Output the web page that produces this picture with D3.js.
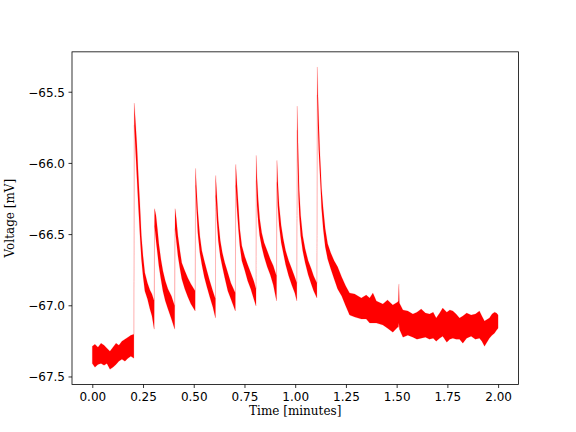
<!DOCTYPE html>
<html><head><meta charset="utf-8">
<script src="https://cdn.jsdelivr.net/npm/d3@7"></script>
<style>body{margin:0;background:#fff}</style>
</head><body><svg id="c" width="576" height="432"></svg>
<script>
// Time (minutes) of envelope samples
const timeMin = [
0.000,0.013,0.028,0.043,0.058,0.072,0.087,0.102,0.117,0.131,0.146,0.161,0.176,0.190,0.205,
0.207,0.213,0.220,0.227,0.235,0.242,0.250,0.259,0.272,0.284,0.294,0.305,
0.307,0.314,0.321,0.328,0.338,0.348,0.360,0.373,0.390,0.406,
0.408,0.414,0.422,0.432,0.441,0.456,0.471,0.486,0.507,
0.509,0.513,0.520,0.530,0.540,0.552,0.565,0.579,0.594,0.607,
0.608,0.614,0.621,0.631,0.641,0.653,0.668,0.683,0.705,
0.707,0.712,0.720,0.727,0.737,0.752,0.766,0.781,0.796,0.807,
0.808,0.812,0.818,0.825,0.835,0.847,0.862,0.877,0.892,0.908,
0.910,0.914,0.921,0.931,0.941,0.953,0.968,0.983,0.998,1.008,
1.010,1.012,1.016,1.020,1.027,1.037,1.049,1.064,1.079,1.091,1.107,
1.109,1.112,1.116,1.121,1.126,1.130,1.138,1.148,1.160,1.175,1.192,1.209,1.229,1.249,
1.268,1.293,1.326,1.350,1.367,1.383,1.400,1.432,1.455,1.481,
1.505,1.5085,1.511,1.5135,1.531,1.555,1.580,1.600,1.621,1.642,
1.662,1.680,1.695,1.712,1.727,1.747,1.762,1.777,1.793,1.810,
1.826,1.845,1.867,1.888,1.908,1.920,1.933,1.957,1.970,1.982,1.992,2.000];

// Upper edge of the noisy voltage trace (mV)
const voltHigh = [
-67.288,-67.274,-67.295,-67.266,-67.281,-67.302,-67.323,-67.295,-67.266,-67.281,-67.252,-67.238,-67.224,-67.210,-67.203,
-65.580,-65.714,-65.876,-66.088,-66.300,-66.511,-66.652,-66.772,-66.843,-66.892,-66.921,-66.970,
-66.321,-66.370,-66.462,-66.568,-66.674,-66.758,-66.829,-66.885,-66.935,-67.005,
-66.321,-66.391,-66.511,-66.617,-66.702,-66.758,-66.808,-66.850,-66.899,
-66.038,-66.158,-66.335,-66.511,-66.617,-66.688,-66.758,-66.829,-66.899,-66.956,
-66.088,-66.229,-66.405,-66.547,-66.631,-66.702,-66.772,-66.843,-66.913,
-66.010,-66.123,-66.300,-66.462,-66.582,-66.659,-66.716,-66.772,-66.829,-66.885,
-65.947,-66.109,-66.264,-66.391,-66.490,-66.561,-66.617,-66.674,-66.723,-66.794,
-65.982,-66.123,-66.300,-66.441,-66.532,-66.617,-66.688,-66.744,-66.801,-66.843,
-65.601,-65.735,-65.982,-66.194,-66.370,-66.511,-66.603,-66.688,-66.744,-66.794,-66.843,
-65.326,-65.509,-65.700,-65.911,-66.053,-66.180,-66.321,-66.462,-66.568,-66.631,-66.688,-66.730,-66.801,-66.864,
-66.913,-66.921,-66.949,-66.928,-66.949,-66.913,-66.970,-66.991,-66.963,-66.998,
-66.977,-66.970,-66.850,-66.984,-67.033,-67.040,-67.062,-67.048,-67.026,-67.055,
-67.062,-67.048,-67.090,-67.055,-67.019,-67.048,-67.033,-67.040,-67.062,-67.090,
-67.076,-67.055,-67.069,-67.062,-67.040,-67.076,-67.111,-67.090,-67.062,-67.048,-67.055,-67.069];

// Lower edge of the noisy voltage trace (mV)
const voltLow = [
-67.408,-67.436,-67.415,-67.408,-67.422,-67.408,-67.450,-67.436,-67.415,-67.393,-67.379,-67.393,-67.372,-67.358,-67.372,
-65.735,-65.911,-66.109,-66.300,-66.511,-66.674,-66.794,-66.899,-66.956,-67.026,-67.076,-67.168,
-66.441,-66.547,-66.631,-66.723,-66.815,-66.899,-66.970,-67.026,-67.097,-67.168,
-66.462,-66.547,-66.652,-66.744,-66.815,-66.885,-66.942,-66.991,-67.040,
-66.158,-66.300,-66.490,-66.631,-66.716,-66.801,-66.871,-66.942,-67.012,-67.090,
-66.229,-66.405,-66.547,-66.659,-66.730,-66.808,-66.899,-66.956,-67.040,
-66.158,-66.300,-66.462,-66.582,-66.688,-66.758,-66.829,-66.885,-66.956,-67.005,
-66.123,-66.300,-66.420,-66.511,-66.589,-66.659,-66.730,-66.786,-66.857,-66.970,
-66.137,-66.300,-66.441,-66.561,-66.631,-66.716,-66.794,-66.857,-66.913,-66.970,
-65.770,-65.982,-66.229,-66.370,-66.511,-66.617,-66.702,-66.786,-66.850,-66.899,-66.949,
-65.523,-65.735,-65.911,-66.053,-66.194,-66.321,-66.462,-66.589,-66.674,-66.744,-66.815,-66.885,-66.935,-67.005,
-67.069,-67.083,-67.097,-67.097,-67.125,-67.125,-67.125,-67.139,-67.161,-67.189,
-67.154,-67.154,-67.125,-67.168,-67.224,-67.210,-67.224,-67.238,-67.231,-67.224,
-67.238,-67.231,-67.252,-67.231,-67.217,-67.259,-67.238,-67.231,-67.238,-67.238,
-67.266,-67.231,-67.217,-67.238,-67.231,-67.252,-67.288,-67.231,-67.210,-67.196,-67.175,-67.161];

const xTicks = [0, 0.25, 0.5, 0.75, 1.0, 1.25, 1.5, 1.75, 2.0];
const yTicks = [-67.5, -67.0, -66.5, -66.0, -65.5];
const xLabel = "Time [minutes]";
const yLabel = "Voltage [mV]";

const rows = timeMin.map((t, i) => ({t, hi: voltHigh[i], lo: voltLow[i]}));

const L = 72, R = 518.4, T = 51.84, B = 384.48;
const tMin = d3.min(timeMin), tMax = d3.max(timeMin);
const tPad = 0.05 * (tMax - tMin);
const vMin = d3.min(voltLow), vMax = d3.max(voltHigh);
const vPad = 0.05 * (vMax - vMin);

const x = d3.scaleLinear().domain([tMin - tPad, tMax + tPad]).range([L, R]);
const y = d3.scaleLinear().domain([vMin - vPad, vMax + vPad]).range([B, T]);

const svg = d3.select("#c");
svg.append("rect").attr("width", 576).attr("height", 432).attr("fill", "#fff");

const area = d3.area().x(d => x(d.t)).y0(d => y(d.lo)).y1(d => y(d.hi));
svg.append("path").datum(rows).attr("d", area)
  .attr("fill", "#ff0000").attr("stroke", "#ff0000").attr("stroke-width", 0.15);

const fmtX = d3.format(".2f"), fmtY = d3.format(".1f");
const FS = 12;

const gx = svg.append("g").attr("transform", `translate(0,${B})`)
  .call(d3.axisBottom(x).tickValues(xTicks).tickFormat(fmtX).tickSize(3.5).tickPadding(3.5));
gx.select(".domain").remove();
gx.selectAll(".tick line").attr("stroke", "#000").attr("stroke-width", 0.8);
gx.selectAll(".tick text").attr("font-family", "DejaVu Sans").attr("font-size", FS)
  .attr("fill", "#000").attr("y", 16.8).attr("dy", null);

const gy = svg.append("g").attr("transform", `translate(${L},0)`)
  .call(d3.axisLeft(y).tickValues(yTicks).tickFormat(fmtY).tickSize(3.5).tickPadding(3.5));
gy.select(".domain").remove();
gy.selectAll(".tick line").attr("stroke", "#000").attr("stroke-width", 0.8);
gy.selectAll(".tick text").attr("font-family", "DejaVu Sans").attr("font-size", FS)
  .attr("fill", "#000").attr("dy", "0.36em");

svg.append("rect").attr("x", L).attr("y", T).attr("width", R - L).attr("height", B - T)
  .attr("fill", "none").attr("stroke", "#000").attr("stroke-width", 0.8);

svg.append("text").attr("x", (L + R) / 2).attr("y", 415.3).attr("text-anchor", "middle")
  .attr("font-family", "DejaVu Serif").attr("font-size", FS).attr("fill", "#000").text(xLabel);

svg.append("text").attr("transform", `translate(13.6,${(T + B) / 2}) rotate(-90)`)
  .attr("text-anchor", "middle").attr("font-family", "DejaVu Serif").attr("font-size", FS)
  .attr("fill", "#000").text(yLabel);
</script></body></html>
